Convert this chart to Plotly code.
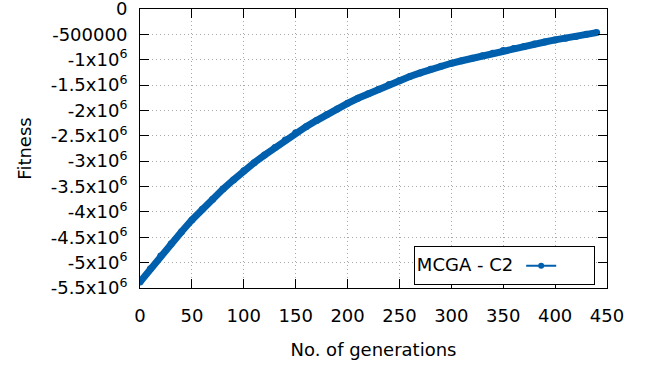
import plotly.graph_objects as go

generations = [0, 10, 20, 30, 40, 50, 60, 70, 80, 90, 100, 110, 120, 130, 140, 150,
               160, 170, 180, 190, 200, 210, 220, 230, 240, 250, 260, 270, 280, 290,
               300, 310, 320, 330, 340, 350, 360, 370, 380, 390, 400, 410, 420, 430, 440]
fitness_m = [-5.38, -5.12, -4.87, -4.63, -4.39, -4.16, -3.95, -3.75, -3.55, -3.37,
             -3.19, -3.03, -2.88, -2.73, -2.58, -2.44, -2.32, -2.20, -2.08, -1.97,
             -1.86, -1.76, -1.67, -1.58, -1.49, -1.41, -1.33, -1.26, -1.19, -1.13,
             -1.07, -1.02, -0.97, -0.92, -0.87, -0.82, -0.78, -0.74, -0.69, -0.65,
             -0.61, -0.575, -0.54, -0.50, -0.465]
fitness = [v * 1e6 for v in fitness_m]
series_name = "MCGA - C2"

x_ticks = [0, 50, 100, 150, 200, 250, 300, 350, 400, 450]
y_ticks = [0, -500000, -1e6, -1.5e6, -2e6, -2.5e6, -3e6, -3.5e6, -4e6, -4.5e6, -5e6, -5.5e6]
y_ticktext = ["0", "-500000", "-1x10<sup>6</sup>", "-1.5x10<sup>6</sup>", "-2x10<sup>6</sup>",
              "-2.5x10<sup>6</sup>", "-3x10<sup>6</sup>", "-3.5x10<sup>6</sup>", "-4x10<sup>6</sup>",
              "-4.5x10<sup>6</sup>", "-5x10<sup>6</sup>", "-5.5x10<sup>6</sup>"]

color = "#0060ad"
fig = go.Figure()
fig.add_trace(go.Scatter(x=generations, y=fitness, mode="lines+markers", name=series_name,
                         line=dict(color=color, width=7), marker=dict(color=color, size=7),
                         showlegend=False))
fig.add_trace(go.Scatter(x=[None], y=[None], mode="lines+markers", name="\u2003\u2002",
                         line=dict(color=color, width=2), marker=dict(color=color, size=6),
                         showlegend=True))

font = dict(family="DejaVu Sans", size=18, color="black")
axis_common = dict(showline=True, linecolor="black", linewidth=1, mirror="ticks",
                   ticks="inside", ticklen=9, tickcolor="black", showgrid=True,
                   gridcolor="#a8a8a8", griddash="1px,3px", gridwidth=1, zeroline=False,
                   tickfont=font, automargin=False, ticklabeloverflow="allow")
fig.update_layout(
    width=654, height=373,
    margin=dict(l=140, r=47, t=8.5, b=84.5),
    plot_bgcolor="white", paper_bgcolor="white",
    font=font,
    xaxis=dict(range=[0, 450], tickvals=x_ticks, ticklabelstandoff=11,
               title=dict(text="No. of generations", font=font, standoff=18),
               **axis_common),
    yaxis=dict(range=[-5.5e6, 0], tickvals=y_ticks, ticktext=y_ticktext, ticklabelstandoff=8,
               title=dict(text="Fitness", font=font, standoff=14), **axis_common),
    legend=dict(x=0.974, y=0.079, xanchor="right", yanchor="middle",
                bordercolor="black", borderwidth=1, bgcolor="white",
                title=dict(text=series_name, side="left", font=font),
                font=font, itemwidth=30),
)
fig.write_html("out.html", config={"displayModeBar": False},
               post_script="document.body.style.margin='0';")
